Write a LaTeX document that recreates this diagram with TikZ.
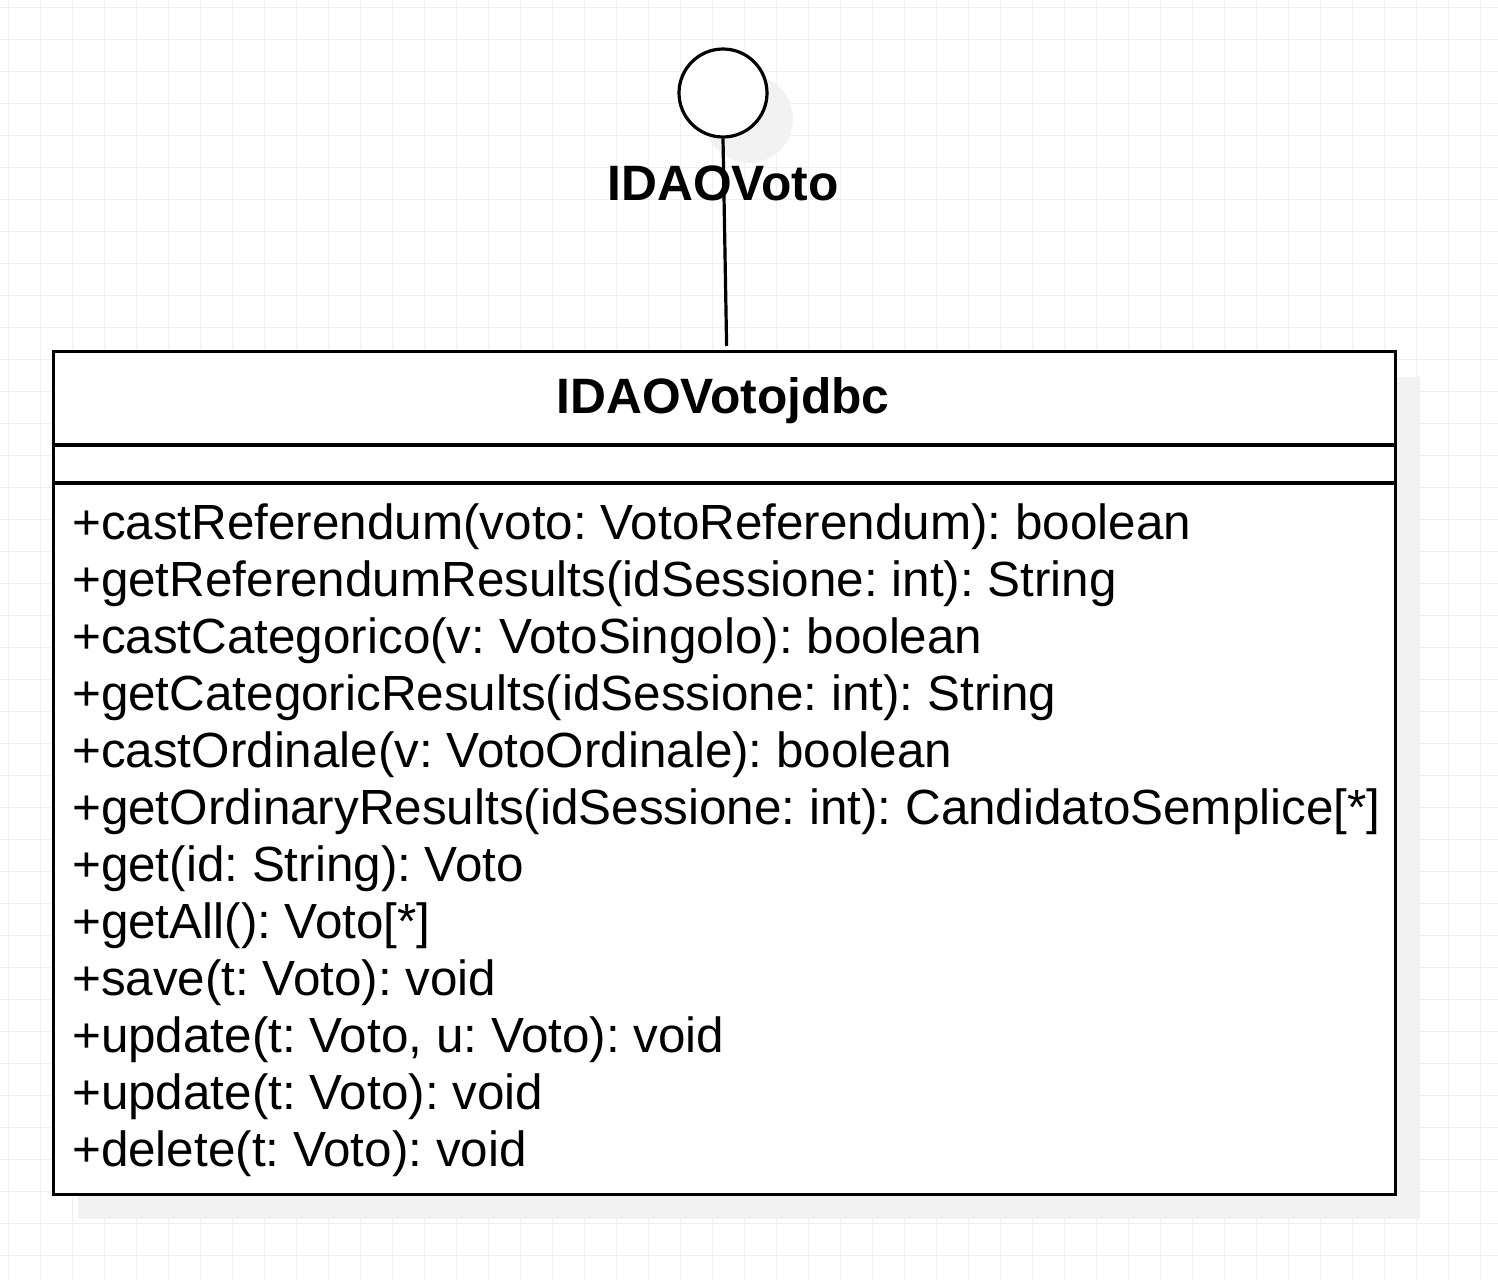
\documentclass[tikz,border=0pt]{standalone}
\usepackage{fontspec}
\setmainfont{Liberation Sans}
\usepackage{xcolor}
\usetikzlibrary{positioning}

\definecolor{gridgray}{HTML}{EFEFEF}
\definecolor{shadowgray}{HTML}{F2F2F2}

\begin{document}
\frenchspacing
\begin{tikzpicture}[
    x=1pt, y=-1pt,
    gridline/.style={draw=gridgray, line width=1pt},
    dropshadow/.style={fill=shadowgray, draw=none},
    umlline/.style={draw=black, line width=3.2pt},
    classbox/.style={rectangle, umlline, fill=white, minimum width=1342pt, minimum height=843pt, inner sep=0pt, anchor=north west},
    ifacecirc/.style={circle, umlline, fill=white, minimum size=88pt, inner sep=0pt},
    umltitle/.style={inner sep=0pt, anchor=base, font=\bfseries\fontsize{49.7}{57}\selectfont},
    method/.style={inner sep=0pt, anchor=base west, font=\fontsize{49.4}{57}\selectfont}
]

% background and grid
\useasboundingbox[fill=white] (0,0) rectangle (1498,1280);
\foreach \x in {8,40,...,1496} \draw[gridline] (\x,0) -- (\x,1280);
\foreach \y in {7,39,...,1279} \draw[gridline] (0,\y) -- (1498,\y);

% shadows
\fill[dropshadow] (749,119) circle (44);
\fill[dropshadow] (78,377) rectangle (1420,1219);

% interface
\node[ifacecirc] (iface) at (723,93) {};
\node[umltitle] (ifacename) at (723,200) {IDAOVoto};

% class
\node[classbox] (votojdbc) at (52,350) {};
\node[umltitle] (classname) at (723,413) {IDAOVotojdbc};
\draw[umlline] ([yshift=-95pt]votojdbc.north west) -- ([yshift=-95pt]votojdbc.north east);
\draw[umlline] ([yshift=-133pt]votojdbc.north west) -- ([yshift=-133pt]votojdbc.north east);

\foreach \m [count=\i from 0] in {
    {+castReferendum(voto: VotoReferendum): boolean},
    {+getReferendumResults(idSessione: int): String},
    {+castCategorico(v: VotoSingolo): boolean},
    {+getCategoricResults(idSessione: int): String},
    {+castOrdinale(v: VotoOrdinale): boolean},
    {+getOrdinaryResults(idSessione: int): CandidatoSemplice[*]},
    {+get(id: String): Voto},
    {+getAll(): Voto[*]},
    {+save(t: Voto): void},
    {+update(t: Voto, u: Voto): void},
    {+update(t: Voto): void},
    {+delete(t: Voto): void}}
  \node[method] (m\i) at (72,{539+57*\i}) {\m};

% realization
\draw[umlline] (iface.south) -- ([xshift=2pt, yshift=4pt]votojdbc.north);

\end{tikzpicture}
\end{document}
